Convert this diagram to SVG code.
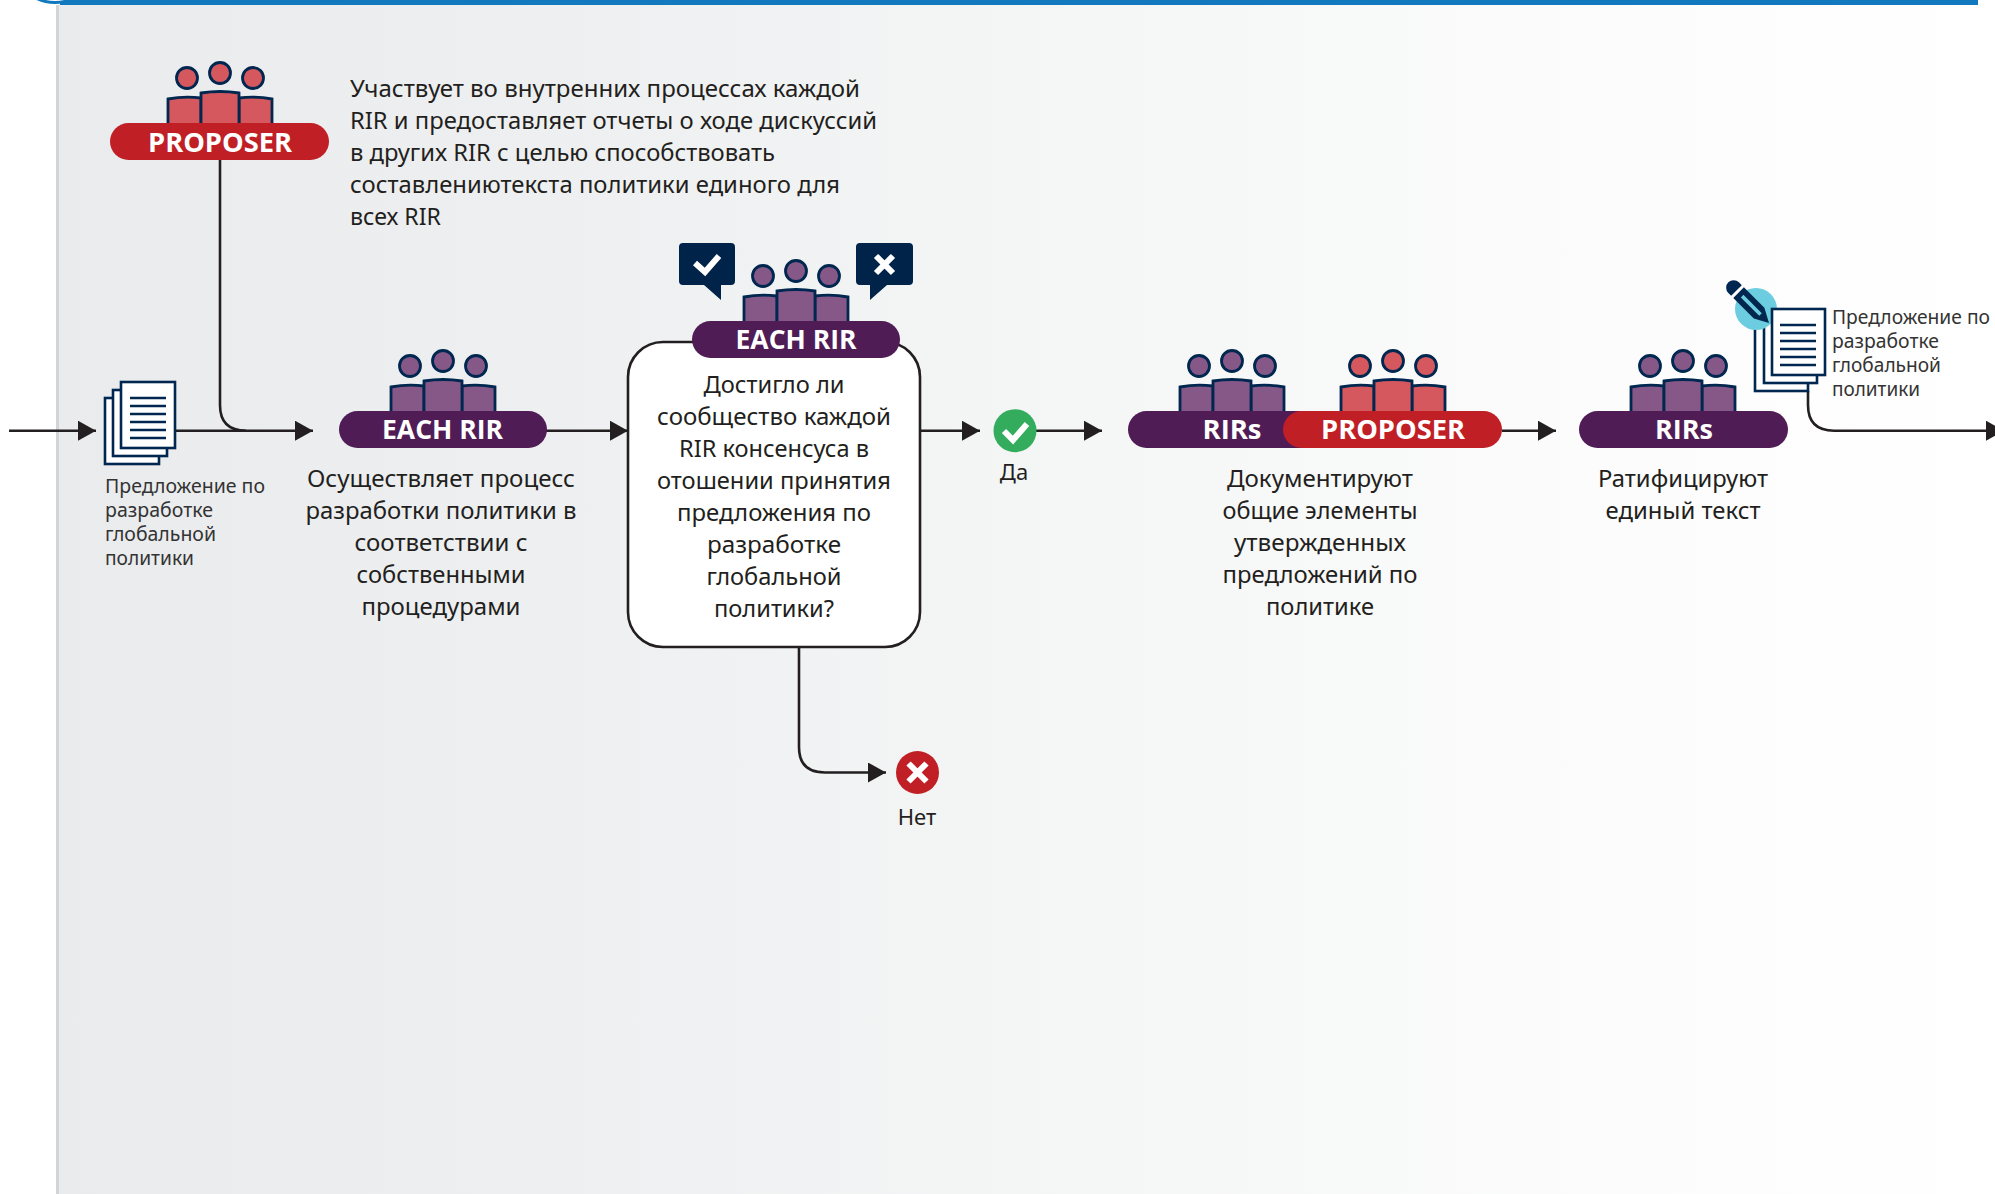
<svg xmlns="http://www.w3.org/2000/svg" width="1995" height="1194" viewBox="0 0 1995 1194">
<style>
text{font-family:"Noto Sans","Open Sans","DejaVu Sans",sans-serif;fill:#231f20}
.m{font-size:24px;text-anchor:middle}
.l{font-size:24px}
.s{font-size:19.5px;fill:#333}
.b{font-family:"Open Sans","Noto Sans",sans-serif;font-weight:700;font-size:26px;fill:#fff;text-anchor:middle}
.c{fill:none;stroke:#231f20;stroke-width:2.6}
.a{marker-end:url(#arrow)}
.pill-p{fill:#4f1c56}
.pill-r{fill:#c01f26}
.ppl-p{fill:#865888}
.ppl-r{fill:#d4585d}
.pg{fill:#fff;stroke:#00274f;stroke-width:2.6}
.ln{stroke:#00274f;stroke-width:2.6}
.ic{fill:none;stroke:#fff;stroke-width:6}
.dk{fill:#00234a}
</style>
<defs>
<linearGradient id="bg" x1="0" y1="0" x2="1" y2="0">
<stop offset="0" stop-color="#eaebed"/><stop offset="0.25" stop-color="#eeeff0"/><stop offset="0.5" stop-color="#f4f5f5"/><stop offset="0.8" stop-color="#fcfcfc"/><stop offset="1" stop-color="#fff"/>
</linearGradient>
<marker id="arrow" markerUnits="userSpaceOnUse" markerWidth="18" markerHeight="20" viewBox="0 0 18 20" refX="18" refY="10" orient="auto"><path d="M0,0L18,10L0,20Z" fill="#231f20"/></marker>
<g id="people" stroke="#00274f" stroke-width="2.8">
<circle cx="-33" cy="-45" r="10.5"/><circle cx="0" cy="-50" r="10.5"/><circle cx="33" cy="-45" r="10.5"/>
<path d="M-52,2V-24Q-36,-27 -19,-25V2"/>
<path d="M19,2V-25Q36,-27 52,-24V2"/>
<path d="M-19,2V-30Q0,-33 19,-30V2"/>
</g>
<g id="doclines" class="ln"><path d="M0,0H36M0,8H36M0,16H36M0,24H36M0,32H36M0,40H36" fill="none"/></g>
</defs>
<rect x="56" y="5" width="1939" height="1189" fill="url(#bg)"/>
<rect x="56" y="5" width="3" height="1189" fill="#d3d4d6"/>
<rect x="60" y="0" width="1918" height="5" fill="#1279be"/>
<circle cx="55" cy="-39.5" r="42" fill="#fff" stroke="#1279be" stroke-width="3"/>

<g id="connectors">
<path class="c a" d="M9,430.7H96"/>
<path class="c a" d="M175,430.7H313"/>
<path class="c" d="M220,160V405Q220,430.7 246,430.7"/>
<path class="c a" d="M546,430.7H628"/>
<path class="c a" d="M920,430.7H980"/>
<path class="c a" d="M1036,430.7H1102"/>
<path class="c a" d="M1502,430.7H1556"/>
<path class="c a" d="M799,647V747Q799,772.5 825,772.5H886"/>
<path class="c a" d="M1808,391V405Q1808,430.7 1834,430.7H2004"/>
</g>

<g id="proposer-top">
<use href="#people" class="ppl-r" x="220" y="123"/>
<rect class="pill-r" x="110" y="123" width="219" height="37" rx="18.5"/>
<text class="b" x="220" y="151.5" textLength="144" lengthAdjust="spacingAndGlyphs">PROPOSER</text>
</g>
<g id="proposer-note">
<text class="l" x="350" y="97" textLength="510" lengthAdjust="spacingAndGlyphs">Участвует во внутренних процессах каждой</text>
<text class="l" x="350" y="129" textLength="527" lengthAdjust="spacingAndGlyphs">RIR и предоставляет отчеты о ходе дискуссий</text>
<text class="l" x="350" y="161" textLength="425" lengthAdjust="spacingAndGlyphs">в других RIR с целью способствовать</text>
<text class="l" x="350" y="193" textLength="490" lengthAdjust="spacingAndGlyphs">составлениютекста политики единого для</text>
<text class="l" x="350" y="225" textLength="91" lengthAdjust="spacingAndGlyphs">всех RIR</text>
</g>

<g id="doc-in">
<rect class="pg" x="105" y="398" width="54" height="66"/>
<rect class="pg" x="113" y="390" width="54" height="66"/>
<rect class="pg" x="121" y="382" width="54" height="66"/>
<use href="#doclines" x="130" y="398"/>
<text class="s" x="105" y="493" textLength="160" lengthAdjust="spacingAndGlyphs">Предложение по</text>
<text class="s" x="105" y="517" textLength="108" lengthAdjust="spacingAndGlyphs">разработке</text>
<text class="s" x="105" y="541" textLength="111" lengthAdjust="spacingAndGlyphs">глобальной</text>
<text class="s" x="105" y="565" textLength="89" lengthAdjust="spacingAndGlyphs">политики</text>
</g>

<g id="each-rir-1">
<use href="#people" class="ppl-p" x="443" y="411"/>
<rect class="pill-p" x="339" y="411" width="208" height="37" rx="18.5"/>
<text class="b" x="442.5" y="439" textLength="121" lengthAdjust="spacingAndGlyphs">EACH RIR</text>
<text class="m" x="441" y="487" textLength="268" lengthAdjust="spacingAndGlyphs">Осуществляет процесс</text>
<text class="m" x="441" y="519" textLength="271" lengthAdjust="spacingAndGlyphs">разработки политики в</text>
<text class="m" x="441" y="551" textLength="173" lengthAdjust="spacingAndGlyphs">соответствии с</text>
<text class="m" x="441" y="583" textLength="169" lengthAdjust="spacingAndGlyphs">собственными</text>
<text class="m" x="441" y="615" textLength="159" lengthAdjust="spacingAndGlyphs">процедурами</text>
</g>

<g id="decision">
<rect x="628" y="342" width="292" height="305" rx="35" fill="#fff" stroke="#231f20" stroke-width="2.6"/>
<text class="m" x="774" y="393" textLength="141" lengthAdjust="spacingAndGlyphs">Достигло ли</text>
<text class="m" x="774" y="425" textLength="234" lengthAdjust="spacingAndGlyphs">сообщество каждой</text>
<text class="m" x="774" y="457" textLength="190" lengthAdjust="spacingAndGlyphs">RIR консенсуса в</text>
<text class="m" x="774" y="489" textLength="234" lengthAdjust="spacingAndGlyphs">отошении принятия</text>
<text class="m" x="774" y="521" textLength="194" lengthAdjust="spacingAndGlyphs">предложения по</text>
<text class="m" x="774" y="553" textLength="134" lengthAdjust="spacingAndGlyphs">разработке</text>
<text class="m" x="774" y="585" textLength="135" lengthAdjust="spacingAndGlyphs">глобальной</text>
<text class="m" x="774" y="617" textLength="120" lengthAdjust="spacingAndGlyphs">политики?</text>
</g>
<g id="each-rir-2">
<use href="#people" class="ppl-p" x="796" y="321"/>
<rect class="pill-p" x="692" y="321" width="208" height="37" rx="18.5"/>
<text class="b" x="796" y="349" textLength="121" lengthAdjust="spacingAndGlyphs">EACH RIR</text>
<path class="dk" d="M683,243H731a4,4 0 0 1 4,4V281a4,4 0 0 1 -4,4H721V300L704,285H683a4,4 0 0 1 -4,-4V247a4,4 0 0 1 4,-4Z"/>
<path class="ic" d="M695,263L705,272L719,256"/>
<path class="dk" d="M860,243H909a4,4 0 0 1 4,4V281a4,4 0 0 1 -4,4H887L870,300V285H860a4,4 0 0 1 -4,-4V247a4,4 0 0 1 4,-4Z"/>
<path class="ic" d="M876,256L893,273M893,256L876,273"/>
</g>

<g id="yes">
<circle cx="1015" cy="430.7" r="21.5" fill="#33ad5d"/>
<path class="ic" d="M1004,431L1013,440L1027,424"/>
<text class="m" x="1014" y="480" style="font-size:22px">Да</text>
</g>
<g id="no">
<circle cx="917.5" cy="772.5" r="21.5" fill="#c01f26"/>
<path class="ic" d="M908.5,763.5L926.5,781.5M926.5,763.5L908.5,781.5"/>
<text class="m" x="917" y="825" style="font-size:22px">Нет</text>
</g>

<g id="rirs-proposer">
<use href="#people" class="ppl-p" x="1232" y="411"/>
<use href="#people" class="ppl-r" x="1393" y="411"/>
<rect class="pill-p" x="1128" y="411" width="200" height="37" rx="18.5"/>
<rect class="pill-r" x="1283" y="411" width="219" height="37" rx="18.5"/>
<text class="b" x="1232" y="439" textLength="59" lengthAdjust="spacingAndGlyphs">RIRs</text>
<text class="b" x="1393" y="439" textLength="144" lengthAdjust="spacingAndGlyphs">PROPOSER</text>
<text class="m" x="1320" y="487" textLength="186" lengthAdjust="spacingAndGlyphs">Документируют</text>
<text class="m" x="1320" y="519" textLength="195" lengthAdjust="spacingAndGlyphs">общие элементы</text>
<text class="m" x="1320" y="551" textLength="172" lengthAdjust="spacingAndGlyphs">утвержденных</text>
<text class="m" x="1320" y="583" textLength="195" lengthAdjust="spacingAndGlyphs">предложений по</text>
<text class="m" x="1320" y="615" textLength="108" lengthAdjust="spacingAndGlyphs">политике</text>
</g>

<g id="rirs-ratify">
<use href="#people" class="ppl-p" x="1683" y="411"/>
<rect class="pill-p" x="1579" y="411" width="209" height="37" rx="18.5"/>
<text class="b" x="1684" y="439" textLength="58" lengthAdjust="spacingAndGlyphs">RIRs</text>
<text class="m" x="1683" y="487" textLength="170" lengthAdjust="spacingAndGlyphs">Ратифицируют</text>
<text class="m" x="1683" y="519" textLength="155" lengthAdjust="spacingAndGlyphs">единый текст</text>
</g>

<g id="doc-out">
<rect class="pg" x="1755" y="325" width="53" height="66"/>
<rect class="pg" x="1764" y="317" width="53" height="66"/>
<circle cx="1756" cy="309" r="21" fill="#6ccde0"/>
<rect class="pg" x="1772" y="309" width="53" height="66"/>
<use href="#doclines" x="1780" y="325"/>
<g transform="translate(1769,323) rotate(225)">
<path d="M0,0L14,-7.5H43V7.5H14Z" fill="#00274f"/>
<rect x="12" y="-1.8" width="26" height="3.6" fill="#6ccde0"/>
<path d="M46,-7.5H50A7.5,7.5 0 0 1 50,7.5H46Z" fill="#00274f"/>
</g>
<text class="s" x="1832" y="324" textLength="158" lengthAdjust="spacingAndGlyphs">Предложение по</text>
<text class="s" x="1832" y="348" textLength="107" lengthAdjust="spacingAndGlyphs">разработке</text>
<text class="s" x="1832" y="372" textLength="109" lengthAdjust="spacingAndGlyphs">глобальной</text>
<text class="s" x="1832" y="396" textLength="88" lengthAdjust="spacingAndGlyphs">политики</text>
</g>
</svg>
